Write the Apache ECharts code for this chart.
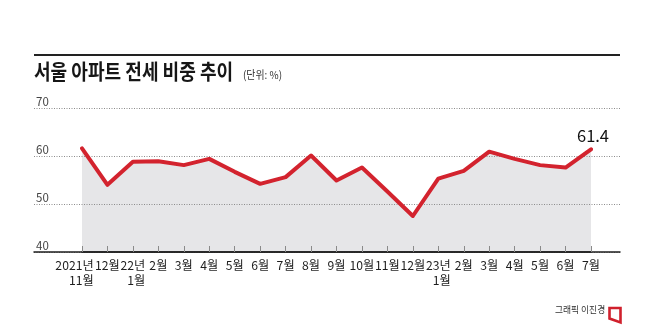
<!DOCTYPE html>
<html>
<head>
<meta charset="utf-8">
<script src="https://cdn.jsdelivr.net/npm/echarts@6/dist/echarts.min.js"></script>
<style>
  html, body { margin: 0; padding: 0; background: #fff; }
  #chart { width: 658px; height: 329px; }
</style>
</head>
<body>
<div id="chart"></div>
<script>
// 서울 아파트 전세 비중 (%), 2021년 11월 ~ 2023년 7월
const months = [
  '2021년\n11월', '12월', '22년\n1월', '2월', '3월', '4월', '5월', '6월', '7월', '8월',
  '9월', '10월', '11월', '12월', '23년\n1월', '2월', '3월', '4월', '5월', '6월', '7월'
];
const jeonseShare = [
  61.6, 54.0, 58.8, 58.9, 58.1, 59.4, 56.7, 54.2, 55.6, 60.1,
  54.9, 57.6, 52.6, 47.5, 55.3, 56.9, 60.9, 59.4, 58.1, 57.6, 61.4
];
const yTicks = { min: 40, max: 70, step: 10 };

const titleText = '서울 아파트 전세 비중 추이';
const unitText = '(단위: %)';
const creditText = '그래픽 이진경';

const narrow = '"Liberation Sans Narrow", "Noto Sans CJK KR", sans-serif';
const cjk = '"Noto Sans CJK KR", sans-serif';
const RED = '#d3232e';

// only the latest month carries a value label
const lastIdx = jeonseShare.length - 1;
const lineData = jeonseShare.map((v, i) => i === lastIdx
  ? { value: v, label: { show: true } }
  : v);

// two-line month labels: year on top, month right-aligned under it;
// the very first label is nudged left so it clears its neighbour
function monthLabel(value, idx) {
  const lines = value.split('\n');
  if (lines.length === 1) return value;
  const suffix = idx === 0 ? '0' : '';
  return '{y' + suffix + '|' + lines[0] + '}\n{m' + suffix + '|' + lines[1] + '}';
}

const labelFont = { fontSize: 12.2, fontFamily: narrow, color: '#1e1e1e', lineHeight: 15 };

const chart = echarts.init(document.getElementById('chart'), null, { renderer: 'canvas' });

chart.setOption({
  backgroundColor: '#fff',
  animation: false,
  grid: [
    // full-width frame: gridlines, y labels and baseline
    { left: 34, right: 38, top: 108, height: 144 },
    // data area
    { left: 82, right: 67, top: 108, height: 144 }
  ],
  xAxis: [
    {
      gridIndex: 0, type: 'value', min: 0, max: 1,
      axisLine: { show: true, lineStyle: { color: '#1e1e1e', width: 1.5 } },
      axisTick: { show: false }, axisLabel: { show: false }, splitLine: { show: false }
    },
    {
      gridIndex: 1, type: 'category', data: months, boundaryGap: false,
      axisLine: { show: true, lineStyle: { color: '#1e1e1e', width: 1.5 } },
      axisTick: { show: true, inside: true, length: 6, lineStyle: { color: '#8a8a8a', width: 1 } },
      axisLabel: Object.assign({
        interval: 0, margin: 6, align: 'center',
        formatter: monthLabel,
        rich: {
          y: Object.assign({ align: 'right' }, labelFont),
          m: Object.assign({ align: 'right' }, labelFont),
          y0: Object.assign({ align: 'right', padding: [0, 15, 0, 0] }, labelFont),
          m0: Object.assign({ align: 'right', padding: [0, 15, 0, 0] }, labelFont)
        }
      }, labelFont),
      splitLine: { show: false }
    }
  ],
  yAxis: [
    {
      gridIndex: 0, type: 'value', min: yTicks.min, max: yTicks.max, interval: yTicks.step,
      axisLine: { show: false }, axisTick: { show: false },
      axisLabel: {
        inside: true, margin: 2, align: 'left', verticalAlign: 'bottom',
        padding: [0, 0, 1, 0], color: '#444', fontSize: 11.5, fontFamily: narrow
      },
      splitLine: { show: true, lineStyle: { color: '#8c8c8c', width: 1, type: [1, 1.5] } }
    },
    {
      gridIndex: 1, type: 'value', min: yTicks.min, max: yTicks.max, interval: yTicks.step,
      show: false, splitLine: { show: false }
    }
  ],
  series: [
    {
      // shaded area, kept beneath the gridlines and month ticks
      type: 'line',
      xAxisIndex: 1, yAxisIndex: 1,
      data: jeonseShare,
      symbol: 'none',
      z: -1,
      silent: true,
      lineStyle: { width: 0 },
      areaStyle: { color: '#e6e6e8', opacity: 1, origin: 'start' }
    },
    {
      type: 'line',
      xAxisIndex: 1, yAxisIndex: 1,
      data: lineData,
      symbol: 'circle',
      symbolSize: 1,
      showSymbol: true,
      z: 5,
      itemStyle: { color: RED },
      lineStyle: { color: RED, width: 4, join: 'round', cap: 'round' },
      label: {
        show: false, position: 'top', distance: 5, offset: [2, 0],
        color: '#111', fontSize: 16.5, fontFamily: narrow
      }
    }
  ],
  graphic: [
    {
      type: 'line', silent: true,
      shape: { x1: 34, y1: 55, x2: 620, y2: 55 },
      style: { stroke: '#222', lineWidth: 2 }
    },
    {
      type: 'text', x: 34, y: 61, scaleX: 0.86, silent: true,
      style: {
        text: titleText, fill: '#161616', align: 'left', verticalAlign: 'top',
        font: 'bold 21px ' + cjk
      }
    },
    {
      type: 'text', x: 243, y: 69, scaleX: 0.9, silent: true,
      style: {
        text: unitText, fill: '#333', align: 'left', verticalAlign: 'top',
        font: '11px ' + cjk
      }
    },
    {
      type: 'text', x: 555, y: 305, scaleX: 0.92, silent: true,
      style: {
        text: creditText, fill: '#333', align: 'left', verticalAlign: 'top',
        font: '9.5px ' + cjk
      }
    },
    {
      type: 'polygon', silent: true,
      shape: { points: [[609.5, 308], [620.5, 308], [620.5, 322.5], [609.5, 318.5]] },
      style: { fill: '#fff', stroke: '#d0202c', lineWidth: 2.6, lineJoin: 'miter' }
    }
  ]
});
</script>
</body>
</html>
